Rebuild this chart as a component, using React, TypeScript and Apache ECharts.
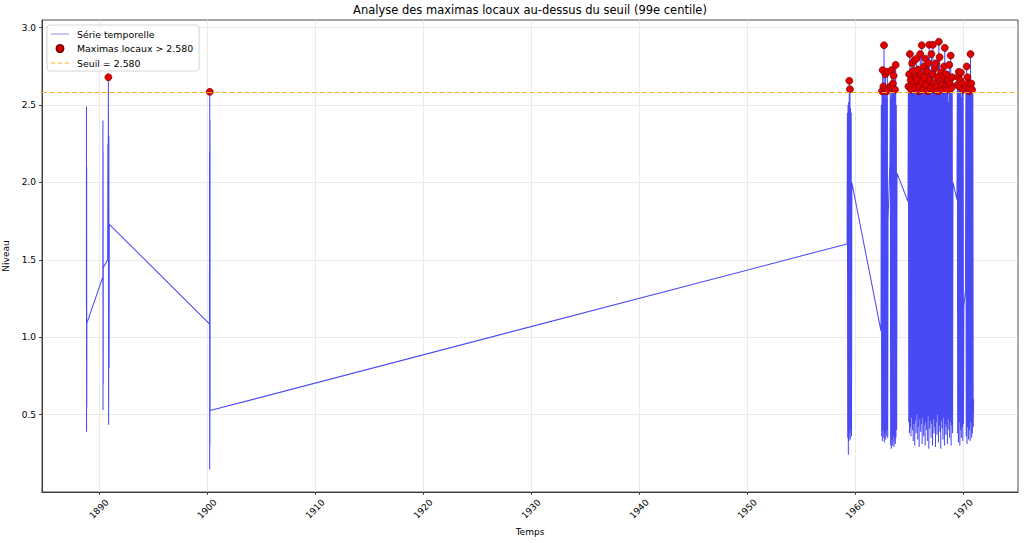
import React, { useEffect, useRef } from "react";
import * as echarts from "echarts";

// ---------------- data ----------------
const THRESHOLD = 2.58;
const X_TICKS = [1890, 1900, 1910, 1920, 1930, 1940, 1950, 1960, 1970];
const Y_TICKS = [0.5, 1.0, 1.5, 2.0, 2.5, 3.0];
const X_MIN = 1884.72;
const X_MAX = 1975.06;

// short isolated bursts: time span [start, end] and the levels recorded in it
const spanA = [1888.83, 1888.87];
const levelsA = [1.2, 2.49, 0.39, 2.1, 0.55, 1.09];
const spanB = [1890.35, 1890.39];
const levelsB = [1.39, 2.4, 0.53, 2.2, 0.7, 1.45];
const spanC = [1890.8, 1890.95];
const levelsC = [1.5, 2.25, 1.6, 2.68, 0.435, 2.3, 0.8, 1.73];
const spanD = [1900.22, 1900.28];
const levelsD = [1.087, 2.2, 0.145, 2.586, 0.3, 2.4, 0.526];

// dense oscillating blocks: edge levels, successive highs and lows
const spanE = [1959.24, 1959.68];
const edgesE = [1.603, 2.0];
const peaksE = [2.45, 2.5, 2.52, 2.657, 2.603, 2.48, 2.45];
const troughsE = [0.35, 0.24, 0.33, 0.38, 0.34, 0.4, 0.36];

const spanF = [1962.38, 1963.03];
const edgesF = [1.04, 1.76];
const peaksF = [2.5, 2.59, 2.726, 2.62, 2.887, 2.6, 2.7, 2.55, 2.59, 2.715];
const troughsF = [0.36, 0.33, 0.4, 0.35, 0.32, 0.38, 0.34, 0.36, 0.4, 0.35];

const spanG = [1963.21, 1963.86];
const edgesG = [2.14, 2.06];
const peaksG = [2.62, 2.55, 2.726, 2.61, 2.64, 2.69, 2.57, 2.6, 2.76, 2.5];
const troughsG = [0.3, 0.28, 0.34, 0.3, 0.36, 0.29, 0.33, 0.31, 0.35, 0.4];

const spanH = [1964.88, 1969.04];
const edgesH = [1.876, 2.0];
const peaksH = [
  2.62, 2.7, 2.83, 2.66, 2.6, 2.77, 2.72, 2.64, 2.79, 2.61,
  2.68, 2.8, 2.66, 2.73, 2.59, 2.62, 2.83, 2.7, 2.887, 2.65,
  2.6, 2.75, 2.68, 2.8, 2.63, 2.72, 2.59, 2.77, 2.89, 2.66,
  2.61, 2.83, 2.7, 2.89, 2.64, 2.6, 2.74, 2.77, 2.62, 2.68,
  2.59, 2.91, 2.81, 2.66, 2.71, 2.63, 2.6, 2.69, 2.75, 2.87,
  2.62, 2.7, 2.6, 2.66, 2.52, 2.76, 2.64, 2.82, 2.61, 2.68,
];
const troughsH = [
  0.45, 0.38, 0.42, 0.36, 0.48, 0.4, 0.33, 0.44, 0.3, 0.46,
  0.38, 0.5, 0.34, 0.42, 0.29, 0.47, 0.39, 0.44, 0.31, 0.48,
  0.36, 0.43, 0.3, 0.45, 0.4, 0.33, 0.49, 0.28, 0.41, 0.46,
  0.35, 0.44, 0.3, 0.47, 0.38, 0.42, 0.29, 0.45, 0.37, 0.5,
  0.32, 0.43, 0.39, 0.28, 0.46, 0.41, 0.34, 0.48, 0.3, 0.44,
  0.37, 0.42, 0.31, 0.47, 0.4, 0.35, 0.45, 0.3, 0.43, 0.38,
];

const spanI = [1969.41, 1970.05];
const edgesI = [1.89, 1.2];
const peaksI = [2.63, 2.68, 2.715, 2.62, 2.66, 2.71, 2.55, 2.64, 2.6];
const troughsI = [0.38, 0.32, 0.45, 0.3, 0.4, 0.35, 0.42, 0.33, 0.44];

const spanJ = [1970.2, 1970.95];
const edgesJ = [1.3, 0.6];
const peaksJ = [2.62, 2.75, 2.68, 2.64, 2.59, 2.62, 2.83, 2.64, 2.6, 2.57];
const troughsJ = [0.36, 0.31, 0.42, 0.34, 0.4, 0.33, 0.45, 0.35, 0.38, 0.42];

// ---------------- assembly ----------------
function alternate(edges: number[], peaks: number[], troughs: number[]) {
  const out: number[] = [edges[0]];
  for (let i = 0; i < peaks.length; i++) {
    out.push(peaks[i]);
    out.push(troughs[i]);
  }
  out.push(edges[1]);
  return out;
}

function stamp(span: number[], levels: number[]): [number, number][] {
  const n = levels.length;
  return levels.map((v, i) => [span[0] + ((span[1] - span[0]) * i) / (n - 1), v]);
}

const serie: [number, number][] = [
  ...stamp(spanA, levelsA),
  ...stamp(spanB, levelsB),
  ...stamp(spanC, levelsC),
  ...stamp(spanD, levelsD),
  ...stamp(spanE, alternate(edgesE, peaksE, troughsE)),
  ...stamp(spanF, alternate(edgesF, peaksF, troughsF)),
  ...stamp(spanG, alternate(edgesG, peaksG, troughsG)),
  ...stamp(spanH, alternate(edgesH, peaksH, troughsH)),
  ...stamp(spanI, alternate(edgesI, peaksI, troughsI)),
  ...stamp(spanJ, alternate(edgesJ, peaksJ, troughsJ)),
];

const maxima: [number, number][] = [];
for (let i = 1; i < serie.length - 1; i++) {
  const v = serie[i][1];
  if (v > serie[i - 1][1] && v > serie[i + 1][1] && v > THRESHOLD) maxima.push(serie[i]);
}

const FONT = "DejaVu Sans";
const DASH = [5, 2.5];
const BLUE = "#4a4af5";
const ORANGE = "#ffb020";

export default function App() {
  const ref = useRef<HTMLDivElement>(null);
  useEffect(() => {
    if (!ref.current) return;
    const chart = echarts.init(ref.current, undefined, { renderer: "svg" });
    chart.setOption({
      animation: false,
      backgroundColor: "#ffffff",
      textStyle: { fontFamily: FONT },
      title: {
        text: "Analyse des maximas locaux au-dessus du seuil (99e centile)",
        left: 530,
        top: 4,
        padding: 0,
        textAlign: "center",
        textStyle: { fontFamily: FONT, fontSize: 11.5, fontWeight: "normal", color: "#000" },
      },
      legend: {
        orient: "vertical",
        left: 47,
        top: 25,
        padding: [4, 6, 3, 4],
        itemGap: 4.5,
        itemWidth: 18,
        itemHeight: 7,
        backgroundColor: "rgba(255,255,255,0.8)",
        borderColor: "#cccccc",
        borderWidth: 0.8,
        borderRadius: 3,
        textStyle: { fontFamily: FONT, fontSize: 9.4, color: "#000", lineHeight: 10, padding: [0, 0, 0, 3] },
        data: [
          { name: "Série temporelle", icon: "path://M0,0H18V1H0Z", itemStyle: { color: "#8c8cf0" } },
          { name: "Maximas locaux > 2.580", icon: "circle" },
          {
            name: "Seuil = 2.580",
            icon: "path://M0,0H4V1H0ZM6.5,0H10.5V1H6.5ZM13,0H17V1H13Z",
            itemStyle: { color: ORANGE },
          },
        ],
      },
      grid: {
        left: 42,
        right: 6,
        top: 20,
        bottom: 51,
        containLabel: false,
        outerBoundsMode: "none",
        show: true,
        borderColor: "#222",
        borderWidth: 0.8,
        backgroundColor: "transparent",
      },
      xAxis: {
        type: "value",
        min: X_MIN,
        max: X_MAX,
        name: "Temps",
        nameLocation: "middle",
        nameGap: 33,
        nameTextStyle: { fontFamily: FONT, fontSize: 9, color: "#000" },
        axisLine: { show: true, lineStyle: { color: "#222", width: 0.8 } },
        axisTick: { show: true, length: 3, customValues: X_TICKS, lineStyle: { color: "#222", width: 0.8 } },
        axisLabel: {
          customValues: X_TICKS,
          rotate: 45,
          align: "center",
          verticalAlign: "middle",
          margin: 17,
          fontFamily: FONT,
          fontSize: 9,
          color: "#000",
          formatter: (v: number) => String(Math.round(v)),
        },
        splitLine: { show: true, lineStyle: { color: "#e6e6e6", width: 0.8 } },
      },
      yAxis: {
        type: "value",
        min: 0,
        max: 3.05,
        interval: 0.5,
        name: "Niveau",
        nameLocation: "middle",
        nameGap: 22,
        nameRotate: 90,
        nameTextStyle: { fontFamily: FONT, fontSize: 9, color: "#000" },
        axisLine: { show: true, lineStyle: { color: "#222", width: 0.8 } },
        axisTick: { show: true, length: 3, customValues: Y_TICKS, lineStyle: { color: "#222", width: 0.8 } },
        axisLabel: {
          customValues: Y_TICKS,
          margin: 6,
          fontFamily: FONT,
          fontSize: 9,
          color: "#000",
          formatter: (v: number) => v.toFixed(1),
        },
        splitLine: { show: true, lineStyle: { color: "#e6e6e6", width: 0.8 } },
      },
      series: [
        {
          type: "line",
          name: "Série temporelle",
          data: serie,
          symbol: "none",
          showSymbol: false,
          silent: true,
          z: 2,
          lineStyle: { color: BLUE, width: 1.05 },
          itemStyle: { color: BLUE },
        },
        {
          type: "line",
          name: "Seuil = 2.580",
          data: [],
          symbol: "none",
          silent: true,
          z: 3,
          lineStyle: { color: ORANGE, width: 1, type: DASH },
          itemStyle: { color: ORANGE },
          markLine: {
            silent: true,
            symbol: "none",
            label: { show: false },
            lineStyle: { color: ORANGE, width: 1, type: DASH },
            data: [{ yAxis: THRESHOLD }],
          },
        },
        {
          type: "scatter",
          name: "Maximas locaux > 2.580",
          data: maxima,
          symbolSize: 7,
          silent: true,
          z: 4,
          itemStyle: { color: "#e00000", borderColor: "#800000", borderWidth: 0.7, opacity: 1 },
        },
      ],
    });
    return () => chart.dispose();
  }, []);
  return (
    <div
      ref={ref}
      style={{ position: "fixed", left: 0, top: 0, width: 1024, height: 543, background: "#fff" }}
    />
  );
}
